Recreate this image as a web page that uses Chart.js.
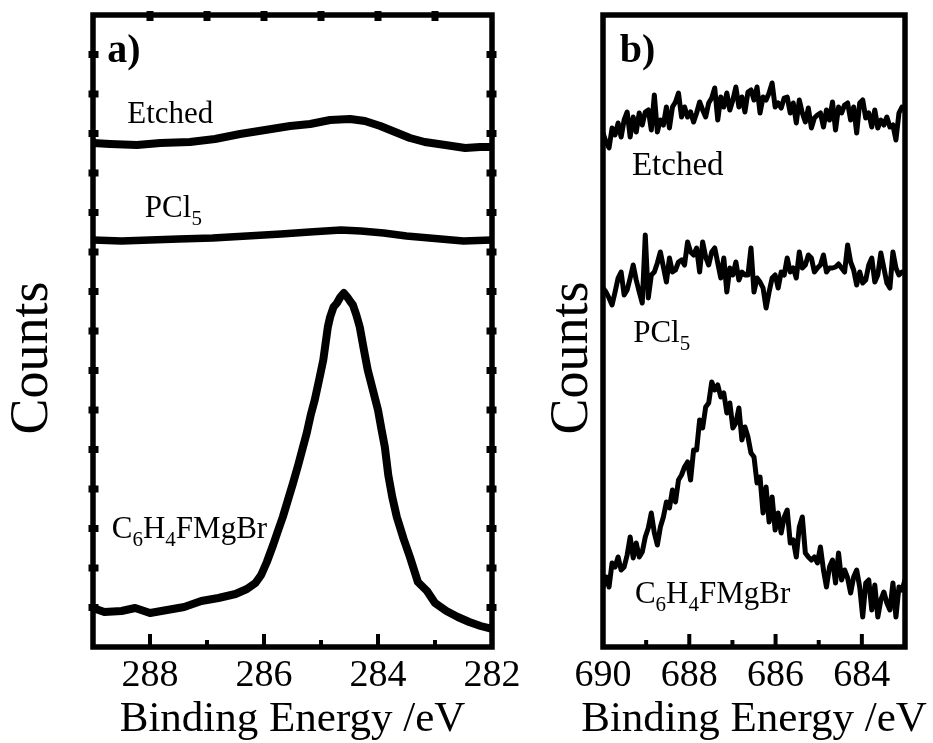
<!DOCTYPE html>
<html>
<head>
<meta charset="utf-8">
<script src="https://cdn.jsdelivr.net/npm/chart.js@4.4.1/dist/chart.umd.min.js"></script>
<style>
  html, body { margin: 0; padding: 0; background: #fff; }
  #wrap { position: relative; width: 933px; height: 743px; }
  #chart-a { position: absolute; left: 0; top: 0; width: 525px; height: 743px; }
  #chart-b { position: absolute; left: 525px; top: 0; width: 408px; height: 743px; }
</style>
</head>
<body>
<div id="wrap">
  <canvas id="chart-a" width="525" height="743"></canvas>
  <canvas id="chart-b" width="408" height="743"></canvas>
</div>
<script>
// Panel a) C 1s region, counts in arbitrary units
// ----------------------------------------------------------------------------------------
const energyA_etched = [289.0, 288.7, 288.23, 287.82, 287.3, 286.86, 286.42, 285.98, 285.54, 285.19,
  284.84, 284.49, 284.23, 283.96, 283.7, 283.44, 283.18, 282.82, 282.47, 282.21, 282.0];
const countsA_etched = [504, 503, 502, 504, 505, 508, 513, 517, 521, 523,
  527, 528, 526, 521, 515, 509, 505, 502, 499, 500, 500];

const energyA_pcl5 = [289.0, 288.5, 288.0, 287.5, 286.9, 286.3, 285.7, 285.2, 284.65, 284.3,
  283.9, 283.5, 283.1, 282.5, 282.0];
const countsA_pcl5 = [407, 406, 407, 408, 409, 411, 413, 415, 417, 416,
  414, 411, 409, 406, 407];

const energyA_c6 = [289.0, 288.8, 288.5, 288.26, 288.0, 287.7, 287.4, 287.1, 286.8, 286.5,
  286.3, 286.15, 286.05, 285.95, 285.84, 285.75, 285.67, 285.58, 285.49, 285.4,
  285.33, 285.25, 285.18, 285.11, 285.03, 284.96, 284.88, 284.84, 284.78, 284.72,
  284.66, 284.6, 284.54, 284.48, 284.44, 284.38, 284.32, 284.25, 284.18, 284.09,
  284.0, 283.94, 283.88, 283.82, 283.75, 283.67, 283.55, 283.44, 283.3, 283.14,
  283.0, 282.8, 282.6, 282.4, 282.2, 282.0];
const countsA_c6 = [39, 35, 36, 39, 34, 37, 40, 46, 49, 53,
  58, 64, 72, 85, 102, 117, 130, 147, 164, 182,
  197, 214, 232, 247, 268, 287, 320, 330, 340, 344,
  350, 354, 350, 345, 342, 332, 320, 298, 277, 257,
  237, 218, 200, 172, 150, 130, 108, 90, 65, 56,
  44, 36, 30, 25, 21, 18];

// Panel b) F 1s region, 0.07 eV steps
// ----------------------------------------------------------------------------------------
const energyB = [690.00, 689.93, 689.86, 689.79, 689.72, 689.65, 689.58, 689.51, 689.44, 689.37,
  689.30, 689.23, 689.16, 689.09, 689.02, 688.95, 688.88, 688.81, 688.74, 688.67,
  688.60, 688.53, 688.46, 688.39, 688.32, 688.25, 688.18, 688.11, 688.04, 687.97,
  687.90, 687.83, 687.76, 687.69, 687.62, 687.55, 687.48, 687.41, 687.34, 687.27,
  687.20, 687.13, 687.06, 686.99, 686.92, 686.85, 686.78, 686.71, 686.64, 686.57,
  686.50, 686.43, 686.36, 686.29, 686.22, 686.15, 686.08, 686.01, 685.94, 685.87,
  685.80, 685.73, 685.66, 685.59, 685.52, 685.45, 685.38, 685.31, 685.24, 685.17,
  685.10, 685.03, 684.96, 684.89, 684.82, 684.75, 684.68, 684.61, 684.54, 684.47,
  684.40, 684.33, 684.26, 684.19, 684.12, 684.05, 683.98, 683.91, 683.84, 683.77,
  683.70, 683.63, 683.56, 683.49, 683.42, 683.35, 683.28, 683.21, 683.14, 683.07,
  683.00];
const countsB_etched = [514, 505, 499, 519, 512, 524, 510, 527, 535, 510,
  530, 515, 534, 522, 535, 537, 517, 552, 515, 527,
  522, 540, 519, 540, 545, 554, 530, 540, 530, 535,
  525, 534, 545, 537, 530, 544, 549, 559, 527, 550,
  540, 554, 537, 547, 560, 540, 550, 535, 555, 557,
  547, 560, 534, 550, 547, 554, 564, 540, 544, 539,
  549, 550, 534, 544, 524, 547, 534, 525, 539, 519,
  529, 532, 534, 520, 537, 527, 545, 517, 540, 534,
  542, 544, 527, 540, 514, 544, 547, 529, 534, 520,
  537, 519, 527, 522, 530, 520, 522, 507, 534, 540,
  537];
const countsB_pcl5 = [359, 355, 349, 342, 355, 369, 375, 352, 357, 369,
  382, 367, 355, 344, 412, 349, 372, 375, 384, 395,
  380, 365, 389, 375, 377, 385, 387, 382, 405, 395,
  392, 399, 375, 405, 390, 382, 395, 399, 384, 369,
  389, 355, 379, 372, 385, 367, 375, 372, 372, 399,
  355, 369, 365, 359, 339, 355, 369, 372, 359, 375,
  372, 389, 375, 379, 369, 395, 379, 382, 392, 389,
  375, 379, 382, 392, 375, 379, 379, 380, 383, 379,
  375, 402, 385, 377, 362, 375, 364, 367, 382, 389,
  365, 372, 394, 379, 364, 359, 395, 379, 372, 375,
  375];
const countsB_c6 = [60, 70, 60, 84, 80, 90, 77, 80, 92, 110,
  89, 104, 90, 95, 110, 119, 134, 114, 102, 120,
  130, 145, 139, 157, 145, 167, 172, 180, 185, 167,
  197, 197, 227, 219, 240, 244, 265, 257, 262, 250,
  254, 234, 244, 219, 224, 239, 207, 220, 210, 194,
  190, 164, 170, 134, 160, 125, 150, 117, 134, 114,
  130, 137, 104, 107, 90, 120, 130, 94, 90, 87,
  90, 84, 100, 77, 60, 80, 87, 64, 94, 67,
  77, 69, 54, 70, 77, 60, 30, 64, 67, 37,
  62, 30, 47, 55, 44, 37, 64, 30, 60, 57,
  67];

const rangeA = [282, 289];
const rangeB = [683, 690];
const countsRange = [0, 632];
const xTitle = 'Binding Energy /eV';
const yTitle = 'Counts';

// Beschriftungen (Text, Position in Datenkoordinaten)
const notesA = [
  { text: 'a)', x: 288.75, y: 585, size: 40, bold: true },
  { text: 'Etched', x: 288.40, y: 524, size: 31 },
  { text: 'PCl_5', x: 288.09, y: 430, size: 31 },
  { text: 'C_6H_4FMgBr', x: 288.67, y: 109, size: 31 },
];
const notesB = [
  { text: 'b)', x: 689.61, y: 585, size: 40, bold: true },
  { text: 'Etched', x: 689.33, y: 472, size: 33 },
  { text: 'PCl_5', x: 689.30, y: 305, size: 31 },
  { text: 'C_6H_4FMgBr', x: 689.26, y: 44, size: 31 },
];

const SERIF = '"Liberation Serif", "Times New Roman", serif';
const pairs = (xs, ys) => xs.map((x, i) => ({ x, y: ys[i] }));

// Text mit Tiefstellung: "_" vor einem Zeichen
// ----------------------------------------------------------------------------------------
function drawNote(ctx, note, px, py) {
  const weight = note.bold ? 'bold ' : '';
  const subSize = Math.round(note.size * 0.68);
  ctx.textAlign = 'left';
  ctx.textBaseline = 'alphabetic';
  let cx = px;
  const t = note.text;
  for (let i = 0; i < t.length; i++) {
    let ch = t[i];
    let sub = false;
    if (ch === '_') { ch = t[++i]; sub = true; }
    ctx.font = sub ? `${subSize}px ${SERIF}` : `${weight}${note.size}px ${SERIF}`;
    ctx.fillText(ch, cx, sub ? py + note.size * 0.27 : py);
    cx += ctx.measureText(ch).width;
  }
}

// Rahmen, Ticks nach innen, x-Titel und Beschriftungen
// ----------------------------------------------------------------------------------------
const framePlugin = {
  id: 'frame',
  afterDatasetsDraw(chart, args, opts) {
    const { ctx, chartArea: a, scales: { x, y } } = chart;
    ctx.save();
    ctx.fillStyle = '#000';
    ctx.strokeStyle = '#000';
    ctx.lineWidth = opts.lineWidth;
    ctx.strokeRect(a.left, a.top, a.right - a.left, a.bottom - a.top);

    x.ticks.forEach(t => {
      const px = x.getPixelForValue(t.value);
      const len = t.value % 2 === 0 ? opts.majorLen : opts.minorLen;
      ctx.fillRect(px - 2, a.bottom - len, 4, len);
      if (opts.topTicks && px > a.left + 4 && px < a.right - 4) {
        ctx.fillRect(px - 3.5, a.top - 4, 7, 10);
      }
    });
    if (opts.sideTicks) {
      y.ticks.forEach(t => {
        const py = y.getPixelForValue(t.value);
        if (py < a.top + 4 || py > a.bottom - 4) return;
        ctx.fillRect(a.left - 4.5, py - 3.5, 10, 7);
        ctx.fillRect(a.right - 5.5, py - 3.5, 10, 7);
      });
    }

    // x-Titel selbst zeichnen, damit er nicht auf die Achsenbreite gestaucht wird
    ctx.font = `43px ${SERIF}`;
    ctx.textAlign = 'center';
    ctx.textBaseline = 'alphabetic';
    ctx.fillText(opts.xTitle, (a.left + a.right) / 2, x.bottom - 12);

    (opts.notes || []).forEach(n => {
      drawNote(ctx, n, x.getPixelForValue(n.x), y.getPixelForValue(n.y));
    });
    ctx.restore();
  }
};

const lineDs = (data, width) => ({
  data,
  borderColor: '#000',
  borderWidth: width,
  pointRadius: 0,
  tension: 0,
  fill: false,
  borderJoinStyle: 'round',
  borderCapStyle: 'round'
});

function makePanel(canvasId, range, datasets, notes, cfg) {
  return new Chart(document.getElementById(canvasId), {
    type: 'line',
    data: { datasets },
    options: {
      responsive: false,
      animation: false,
      events: [],
      layout: { padding: { left: 0, top: 15, right: cfg.padRight, bottom: 0 } },
      plugins: {
        legend: { display: false },
        tooltip: { enabled: false },
        frame: {
          lineWidth: 5.5, majorLen: 13, minorLen: 7,
          topTicks: cfg.topTicks, sideTicks: cfg.sideTicks, notes, xTitle
        }
      },
      scales: {
        x: {
          type: 'linear',
          reverse: true,
          min: range[0],
          max: range[1],
          grid: { display: false },
          border: { display: false },
          afterFit: (s) => { s.height = 96; },
          ticks: {
            stepSize: 1,
            autoSkip: false,
            maxRotation: 0,
            padding: -2,
            color: '#000',
            font: { family: SERIF, size: 38 },
            callback: (v) => (v % 2 === 0 ? String(v) : '')
          },
          title: { display: false }
        },
        y: {
          min: countsRange[0],
          max: countsRange[1],
          grid: { display: false },
          border: { display: false },
          afterFit: (s) => { s.width = cfg.yWidth; },
          ticks: { display: false, stepSize: 39.5 },
          title: {
            display: true,
            text: yTitle + '\u00a0\u00a0\u00a0\u00a0',
            color: '#000',
            font: { family: SERIF, size: 54 },
            padding: { top: cfg.titlePad, bottom: 0 }
          }
        }
      }
    },
    plugins: [framePlugin]
  });
}

makePanel('chart-a', rangeA, [
  lineDs(pairs(energyA_etched, countsA_etched), 8),
  lineDs(pairs(energyA_pcl5, countsA_pcl5), 7.5),
  lineDs(pairs(energyA_c6, countsA_c6), 8)
], notesA, { padRight: 33, yWidth: 93, titlePad: 0, topTicks: true, sideTicks: true });

makePanel('chart-b', rangeB, [
  lineDs(pairs(energyB, countsB_etched), 5),
  lineDs(pairs(energyB, countsB_pcl5), 5),
  lineDs(pairs(energyB, countsB_c6), 5)
], notesB, { padRight: 28, yWidth: 78, titlePad: 15, topTicks: false, sideTicks: false });
</script>
</body>
</html>
